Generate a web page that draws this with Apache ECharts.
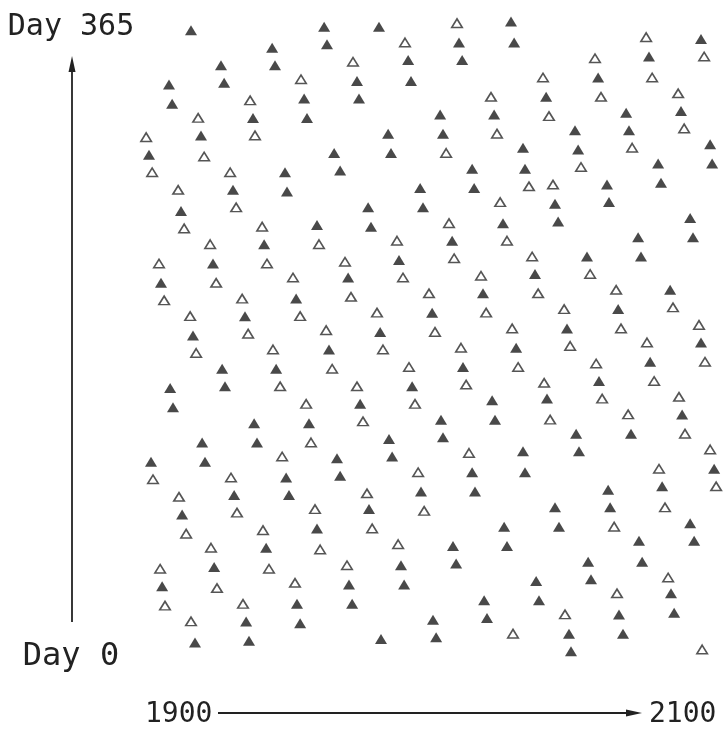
<!DOCTYPE html>
<html><head><meta charset="utf-8">
<script src="https://cdn.jsdelivr.net/npm/echarts@6/dist/echarts.min.js"></script>
<style>html,body{margin:0;padding:0;background:#fff}#c{width:724px;height:739px}</style>
</head><body><div id="c"></div>
<script>
// Tick labels
const yearLabels = { 1900: '1900', 2100: '2100' };
const dayLabels = { 0: 'Day 0', 365: 'Day 365' };

// [year, day of year]
const filledEclipses = [
[1916.1,359],[1962.7,361],[1963.7,351],[1944.5,349],[1945.5,339],[1926.6,339],[1927.7,329],[1908.4,328],[1909.5,317],[1955.7,320],[1937.8,309],[1956.7,309],[1919.6,299],[1901.4,288],[1966.2,289],[1949.0,278],
[1981.9,361],[2028.1,364],[2009.9,352],[2029.2,352],[1992.1,342],[2011.0,342],[1974.2,330],[1993.1,330],[1974.9,320],[2003.3,311],[2022.2,311],[1985.1,300],[2004.3,300],[1986.1,289],[2032.3,292],[1968.3,279],[2014.5,280],[2033.0,280],
[2094.6,354],[2076.4,344],[2058.6,332],[2040.4,321],[2068.4,312],[2087.6,313],[2050.5,302],[2069.4,302],[2051.6,291],[2097.8,294],[2079.6,283],[2098.5,283],
[1930.8,268],[1949.7,267],[1912.6,256],[1960.2,248],[1941.7,237],[1923.8,226],[1905.6,215],[1952.9,206],[1935.0,196],[1916.8,185],
[1996.3,269],[2015.2,269],[1978.1,258],[1997.3,258],[1979.1,247],[2025.3,249],[2007.5,239],[1988.9,228],[1971.1,218],[2018.3,209],[2000.5,198],[1982.3,187],
[2061.7,271],[2080.6,272],[2043.5,260],[2062.4,261],[2044.6,250],[2090.8,252],[2072.6,241],[2091.8,241],[2054.7,230],[2073.6,230],[2036.5,220],[2083.8,211],[2065.6,200],[2047.7,189],
[1964.4,177],[1927.0,166],[1945.9,166],[1908.8,155],[1928.0,156],[1909.8,144],[1938.2,135],[1957.4,135],[1920.0,124],[1939.2,124],[1902.1,113],[1921.0,113],[1949.4,104],[1931.2,94],[1950.4,94],
[2029.9,178],[2011.3,167],[1993.5,156],[1975.3,146],[2021.5,148],[2003.6,137],[2022.5,137],[1985.4,126],[2004.3,127],[1967.2,115],[1986.5,116],[2032.3,119],[1968.3,105],[2014.5,107],[2033.0,107],[1996.6,96],[2015.5,96],
[2094.6,181],[2076.8,170],[2058.9,159],[2040.7,149],[2088.0,140],[2050.9,129],[2070.1,129],[2051.9,119],[2099.2,109],[2062.1,97],[2081.0,99],
[1913.0,83],[1960.2,75],[1942.4,64],[1924.2,53],[1906.0,42],[1953.2,32],[1935.4,22],[1954.3,21],[1917.5,10],[1936.4,11],
[1978.4,86],[2025.7,76],[2007.8,65],[2026.7,65],[1989.6,54],[2008.9,55],[1971.4,43],[1990.7,43],[1972.5,32],[2018.7,34],[2000.8,23],[2019.7,24],[1982.6,12],[2001.9,13],
[2043.5,87],[2062.8,87],[2044.9,76],[2090.8,78],[2072.9,68],[2092.2,68],[2055.1,56],[2074.0,56],[2036.9,45],[2056.1,46],[2037.9,34],[2084.1,38],[2065.9,26],[2085.2,27],[2048.4,15],[2067.3,15],[2049.1,5]
];

const hollowEclipses = [
[1954.6,331],[1936.8,319],[1918.6,309],[1900.4,298],[1938.5,299],[1920.7,287],[1902.5,278],[1929.8,278],
[2009.2,363],[1991.0,352],[1972.8,341],[2021.1,321],[2023.2,300],[2005.4,289],
[2075.4,355],[2057.5,343],[2095.7,344],[2039.3,332],[2077.5,332],[2059.6,321],[2086.6,323],[2041.4,310],[2088.7,303],[2070.5,292],[2052.6,281],
[1911.6,268],[1931.9,258],[1913.7,246],[1941.0,247],[1922.8,237],[1960.9,237],[1904.9,226],[1942.7,226],[1924.9,215],[1951.8,218],[1906.7,205],[1934.0,206],[1915.8,196],[1954.3,196],[1936.1,186],[1963.4,188],
[2024.3,261],[2006.4,249],[1988.2,239],[2026.7,239],[1970.0,227],[2008.2,229],[1990.3,218],[2017.6,219],[1972.1,207],[1999.4,209],[1981.2,198],[2019.4,198],[2001.5,187],[2028.5,189],
[2034.4,270],[2042.8,271],[2035.5,230],[2055.8,220],[2037.6,209],[2064.9,211],[2046.7,200],[2084.8,201],[2066.6,189],[2093.9,191],
[1917.9,175],[1944.8,177],[1965.5,166],[1947.3,156],[1956.4,146],[1958.1,124],[1948.0,116],[1902.8,103],[1930.1,104],[1911.9,93],
[1983.3,177],[2010.6,178],[1992.4,167],[2030.6,167],[1974.2,156],[2012.4,157],[1994.5,146],[1976.3,136],[2013.4,118],[1995.6,107],[1977.7,95],
[2048.8,179],[2075.7,181],[2057.9,169],[2096.0,170],[2039.7,158],[2078.2,159],[2060.0,149],[2086.9,150],[2041.8,137],[2069.1,140],[2089.0,129],[2097.8,120],[2079.9,109],[2099.9,99],
[1932.2,84],[1959.5,86],[1914.4,72],[1941.3,74],[1923.1,64],[1961.3,63],[1905.3,52],[1943.4,52],[1925.2,41],[1952.5,44],[1907.0,31],[1934.3,32],[1916.1,22],
[1997.7,85],[1979.5,75],[1988.6,66],[1970.7,54],[2028.8,15],
[2082.0,87],[2064.2,76],[2083.1,47],[2065.2,38],[2047.0,26],[2095.0,6]
];

const INK = '#222222';
const FONT = 'DejaVu Sans Mono';

const chart = echarts.init(document.getElementById('c'), null, { renderer: 'canvas' });
chart.setOption({
  backgroundColor: '#ffffff',
  animation: false,
  grid: { left: 145, width: 571.43, top: 19.65, height: 640.35 },
  xAxis: {
    type: 'value', min: 1900, max: 2100, interval: 200,
    axisLine: { show: false }, axisTick: { show: false }, splitLine: { show: false },
    axisLabel: {
      show: true, margin: 41, fontSize: 28, fontFamily: FONT, color: INK,
      alignMinLabel: 'left', alignMaxLabel: 'right',
      formatter: v => yearLabels[v] || ''
    }
  },
  yAxis: {
    type: 'value', min: 0, max: 365, interval: 365,
    axisLine: { show: false }, axisTick: { show: false }, splitLine: { show: false },
    axisLabel: {
      show: true, margin: 74, align: 'center', fontSize: 30, fontFamily: FONT, color: INK,
      formatter: v => v === 365 ? '{hi|' + dayLabels[v] + '}' : '{lo|' + (dayLabels[v] || '') + '}',
      rich: {
        hi: { fontSize: 30, fontFamily: FONT, color: INK, padding: [16, 0, 0, 0] },
        lo: { fontSize: 32, fontFamily: FONT, color: INK, padding: [0, 0, 6, 0] }
      }
    }
  },
  graphic: [
    { type: 'line', shape: { x1: 72, y1: 622, x2: 72, y2: 70 }, style: { stroke: INK, lineWidth: 1.8 } },
    { type: 'polygon', shape: { points: [[72, 56], [68.5, 72], [75.5, 72]] }, style: { fill: INK } },
    { type: 'line', shape: { x1: 218, y1: 713, x2: 628, y2: 713 }, style: { stroke: INK, lineWidth: 1.8 } },
    { type: 'polygon', shape: { points: [[642, 713], [626, 709.5], [626, 716.5]] }, style: { fill: INK } }
  ],
  series: [
    {
      name: 'filled', type: 'scatter', clip: false, data: filledEclipses,
      symbol: 'triangle', symbolSize: [12, 10],
      itemStyle: { color: '#1c1c1c' }
    },
    {
      name: 'hollow', type: 'scatter', clip: false, data: hollowEclipses,
      symbol: 'triangle', symbolSize: [10.5, 8.5],
      itemStyle: { color: '#ffffff', borderColor: '#2a2a2a', borderWidth: 1.6 }
    }
  ]
});
</script></body></html>
